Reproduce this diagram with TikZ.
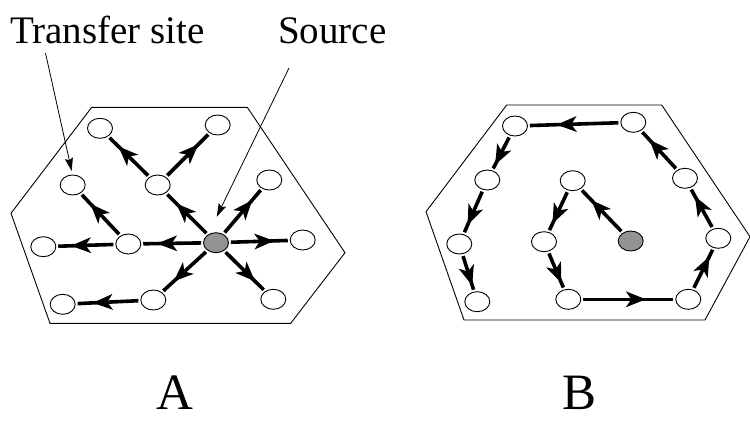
\documentclass[tikz,border=0pt]{standalone}
\usepackage{fontspec}
\setmainfont{Liberation Serif}
\usetikzlibrary{arrows.meta,decorations.markings,shapes.geometric}

\tikzset{
  site/.style={ellipse,draw=black,line width=0.9pt,fill=white,
    minimum width=25pt,minimum height=20pt,inner sep=0pt},
  src/.style={site,fill=gray!85},
  % thick connector with a barbed head part-way along
  flow/.style={line width=3.6pt,shorten <=2pt,shorten >=2pt,
    postaction={decorate,decoration={markings,
      mark=at position 0.58 with {\fill[black] (10pt,0pt) -- (-10pt,8pt)
        -- (-4.5pt,0pt) -- (-10pt,-8pt) -- cycle;}}}},
  pointer/.style={line width=0.8pt,-{Stealth[length=13pt,width=8pt,inset=2pt]}},
  border/.style={line width=0.9pt},
  caption/.style={font=\fontsize{39}{42}\selectfont,inner sep=0pt},
  panel/.style={font=\fontsize{51}{54}\selectfont,inner sep=0pt}
}

\begin{document}
\begin{tikzpicture}[x=1pt,y=-1pt]
\useasboundingbox (0,0) rectangle (750,421);

% ---------- panel A: star-shaped spread ----------
\draw[border] (91.7,107.3) -- (247.3,107.3) -- (345,252.7) -- (290.7,323.3)
  -- (50,323.3) -- (11,213.3) -- cycle;

\node[site] (a1)  at (100,128.3) {};
\node[site] (a2)  at (217.7,125) {};
\node[site] (a3)  at (72.7,185) {};
\node[site] (a4)  at (157.7,185) {};
\node[site] (a5)  at (269.3,180) {};
\node[site] (a6)  at (43.3,246.7) {};
\node[site] (a7)  at (128.3,244) {};
\node[src]  (as)  at (216,242.7) {};
\node[site] (a8)  at (302.7,240) {};
\node[site] (a9)  at (62.7,304.3) {};
\node[site] (a10) at (153.3,300) {};
\node[site] (a11) at (273.3,299.3) {};

\draw[flow] (as) -- (a4);
\draw[flow] (a4) -- (a1);
\draw[flow] (a4) -- (a2);
\draw[flow] (as) -- (a5);
\draw[flow] (as) -- (a7);
\draw[flow] (a7) -- (a6);
\draw[flow] (a7) -- (a3);
\draw[flow] (as) -- (a8);
\draw[flow] (as) -- (a10);
\draw[flow] (as) -- (a11);
\draw[flow] (a10) -- (a9);

% ---------- captions with pointers ----------
\node[caption,anchor=base west] (tlabel) at (10,43.3) {Transfer site};
\node[caption,anchor=base west] (slabel) at (278,43.3) {Source};
\coordinate (tstart) at (45.5,53);
\coordinate (ttip) at (71.7,171);
\coordinate (sstart) at (289,68);
\coordinate (stip) at (216.7,216.7);
\draw[pointer] (tstart) -- (ttip);
\draw[pointer] (sstart) -- (stip);

% ---------- panel B: spiral spread ----------
\draw[border] (506.7,105) -- (661.7,105) -- (750,236.7) -- (705,320)
  -- (464,320) -- (426,211.7) -- cycle;

\node[site] (b1)  at (515,126) {};
\node[site] (b2)  at (633.3,122.3) {};
\node[site] (b3)  at (487.3,180) {};
\node[site] (b4)  at (685,178.3) {};
\node[site] (b5)  at (572.7,180.7) {};
\node[site] (b6)  at (459.3,244) {};
\node[site] (b7)  at (544,241.7) {};
\node[src]  (bs)  at (630.7,241) {};
\node[site] (b8)  at (718.3,238.3) {};
\node[site] (b9)  at (477.3,301.7) {};
\node[site] (b10) at (568.3,299.3) {};
\node[site] (b11) at (688.3,299.3) {};

\draw[flow] (bs) -- (b5);
\draw[flow] (b5) -- (b7);
\draw[flow] (b7) -- (b10);
\draw[flow] (b10) -- (b11);
\draw[flow] (b11) -- (b8);
\draw[flow] (b8) -- (b4);
\draw[flow] (b4) -- (b2);
\draw[flow] (b2) -- (b1);
\draw[flow] (b1) -- (b3);
\draw[flow] (b3) -- (b6);
\draw[flow] (b6) -- (b9);

% ---------- panel letters ----------
\node[panel,anchor=base] (la) at (175,409.5) {A};
\node[panel,anchor=base] (lb) at (580,409.5) {B};
\end{tikzpicture}
\end{document}
